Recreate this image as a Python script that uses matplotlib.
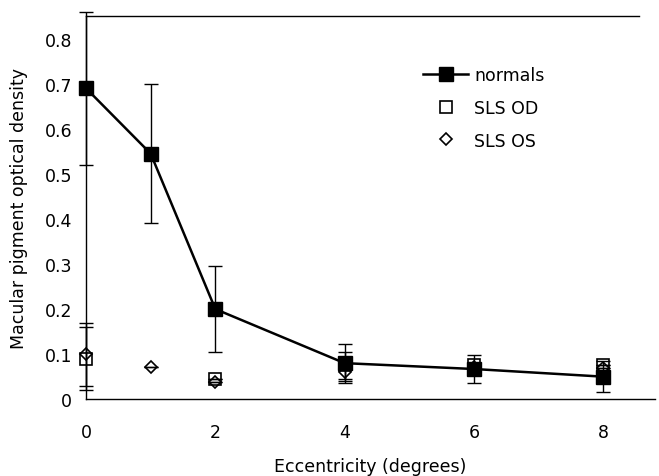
import matplotlib
matplotlib.use("Agg")
import matplotlib.pyplot as plt

plt.rcParams['font.family'] = ['DejaVu Sans']

ecc = [0, 1, 2, 4, 6, 8]
normals = [0.69, 0.545, 0.20, 0.08, 0.067, 0.05]
normals_err = [0.17, 0.155, 0.095, 0.043, 0.03, 0.035]

sls_x = [0, 2, 4, 6, 8]
sls_od = [0.09, 0.045, 0.075, 0.075, 0.075]
sls_od_err = [0.07, 0, 0.03, 0, 0]
sls_os_x = [0, 1, 2, 4, 6, 8]
sls_os = [0.10, 0.072, 0.038, 0.06, 0.072, 0.07]
sls_os_err = [0.07, 0, 0, 0.02, 0, 0]

xticks = [0, 2, 4, 6, 8]
yticks = [0, 0.1, 0.2, 0.3, 0.4, 0.5, 0.6, 0.7, 0.8]
yticklabels = ['0', '0.1', '0.2', '0.3', '0.4', '0.5', '0.6', '0.7', '0.8']

FS = 12.5

fig = plt.figure(figsize=(6.59, 4.77), dpi=100)
ax = fig.add_axes([0.1305, 0.161, 0.8635, 0.803])

for xs, ys, es in [(sls_x, sls_od, sls_od_err), (sls_os_x, sls_os, sls_os_err),
                   (ecc, normals, normals_err)]:
    eb = ax.errorbar(xs, ys, yerr=es, fmt='none', ecolor='black',
                     elinewidth=1, capsize=5, capthick=1, zorder=2)
    for a in eb.lines[1]:
        a.set_clip_on(False)
    for a in eb.lines[2]:
        a.set_clip_on(False)

l1, = ax.plot(ecc, normals, '-s', color='black', lw=1.8, markersize=10,
              label='normals', zorder=3, clip_on=False)
l2, = ax.plot(sls_x, sls_od, 's', mfc='none', mec='black', mew=1.2,
              markersize=9, label='SLS OD', zorder=4, clip_on=False)
l3, = ax.plot(sls_os_x, sls_os, 'D', mfc='none', mec='black', mew=1.2,
              markersize=6.5, label='SLS OS', zorder=4, clip_on=False)

ax.set_xlim(0, 8.8)
ax.set_ylim(0, 0.85)
ax.set_xticks(xticks)
ax.set_yticks(yticks)
ax.set_yticklabels(yticklabels)
ax.tick_params(length=0, labelsize=FS)
ax.tick_params(axis='x', pad=17)
ax.tick_params(axis='y', pad=10)

ax.spines['right'].set_visible(False)
ax.spines['top'].set_bounds(0, 8.55)
for s in ['left', 'bottom', 'top']:
    ax.spines[s].set_linewidth(1.0)

ax.set_xlabel('Eccentricity (degrees)', fontsize=FS, labelpad=12)
ax.set_ylabel('Macular pigment optical density', fontsize=FS, labelpad=12)

ax.legend(handles=[l1, l2, l3], loc='upper left', bbox_to_anchor=(0.58, 0.888),
          frameon=False, fontsize=FS, handlelength=2.6, labelspacing=0.85,
          handletextpad=0.35, borderaxespad=0)

fig.savefig('out.png', dpi=100)
